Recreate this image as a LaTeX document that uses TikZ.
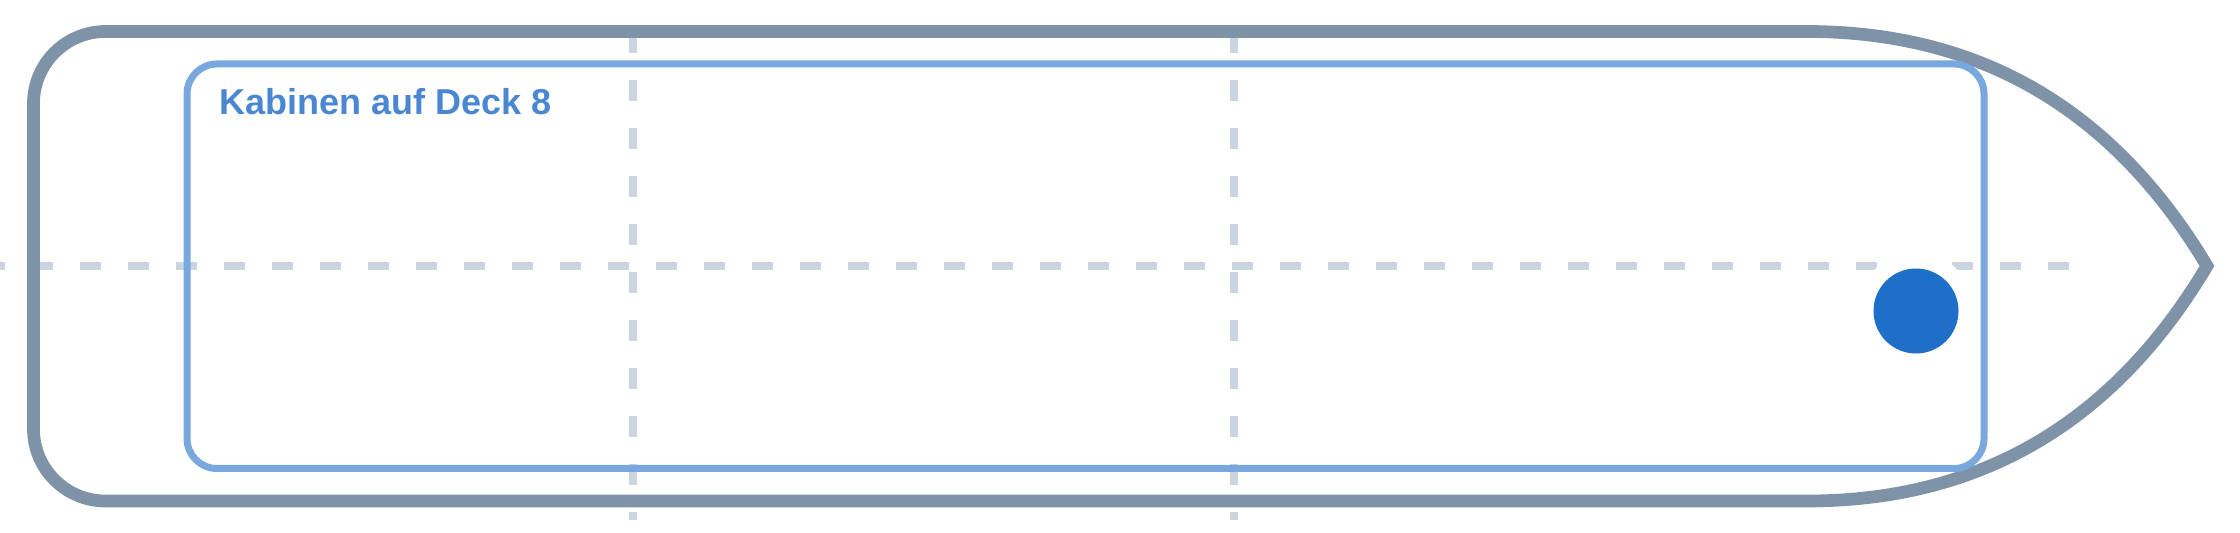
\documentclass[tikz,border=0pt]{standalone}
\usepackage{fontspec}
\setmainfont{Liberation Sans}
\usetikzlibrary{positioning}
\definecolor{hullgrey}{HTML}{7F93A8}
\definecolor{cabinblue}{HTML}{78A8DE}
\definecolor{labelblue}{HTML}{4A87D3}
\definecolor{dotblue}{HTML}{1E6FC8}
\definecolor{gridgrey}{HTML}{CBD5E0}
\tikzset {
  % outline of the ship
  hull/.style = {
    draw = hullgrey,
    line width = 6.35pt,
    line join = miter
  },
  % cabin area of the deck
  cabins/.style = {
    draw = cabinblue,
    line width = 3.5pt,
    rounded corners = 15pt
  },
  % helper grid
  grid line/.style = {
    draw = gridgrey,
    line width = 4pt,
    dash pattern = on 10.5pt off 13.5pt
  },
  deck label/.style = {
    font = \bfseries\fontsize{18pt}{21pt}\selectfont,
    text = labelblue,
    inner sep = 0,
    anchor = base west
  },
  % current position
  position/.style = {
    circle,
    fill = dotblue,
    minimum size = 42.5pt,
    inner sep = 0,
    preaction = {draw = white, line width = 16pt}
  }
}

\begin{document}
\begin{tikzpicture}[x=0.5pt, y=-0.5pt]
    \useasboundingbox (0,0) rectangle (2240,533);

    \coordinate (bow) at (2207,266);
    \coordinate (bow-top) at (1807,31.5);
    \coordinate (bow-bottom) at (1807,501);

    \draw[grid line, dash phase = 8pt] (0,266) -- (2069,266);
    \draw[grid line] (633,32) -- (633,520);
    \draw[grid line] (1233.5,32) -- (1233.5,520);

    \draw[hull] (bow-top)
    -- (105.5,31.5) arc[start angle = -90, end angle = -180, radius = 72]
    -- (33.5,429) arc[start angle = 180, end angle = 90, radius = 72]
    -- (bow-bottom)
    .. controls (1980.3,501) and (2113.7,422.7) .. (bow)
    .. controls (2113.7,109.7) and (1980.3,31.5) .. cycle;

    \draw[cabins] (187,64) rectangle (1984,468.5);
    \node[deck label] (deck) at (219,115) {Kabinen auf Deck 8};

    \node[position] (here) at (1916,311) {};
\end{tikzpicture}
\end{document}
